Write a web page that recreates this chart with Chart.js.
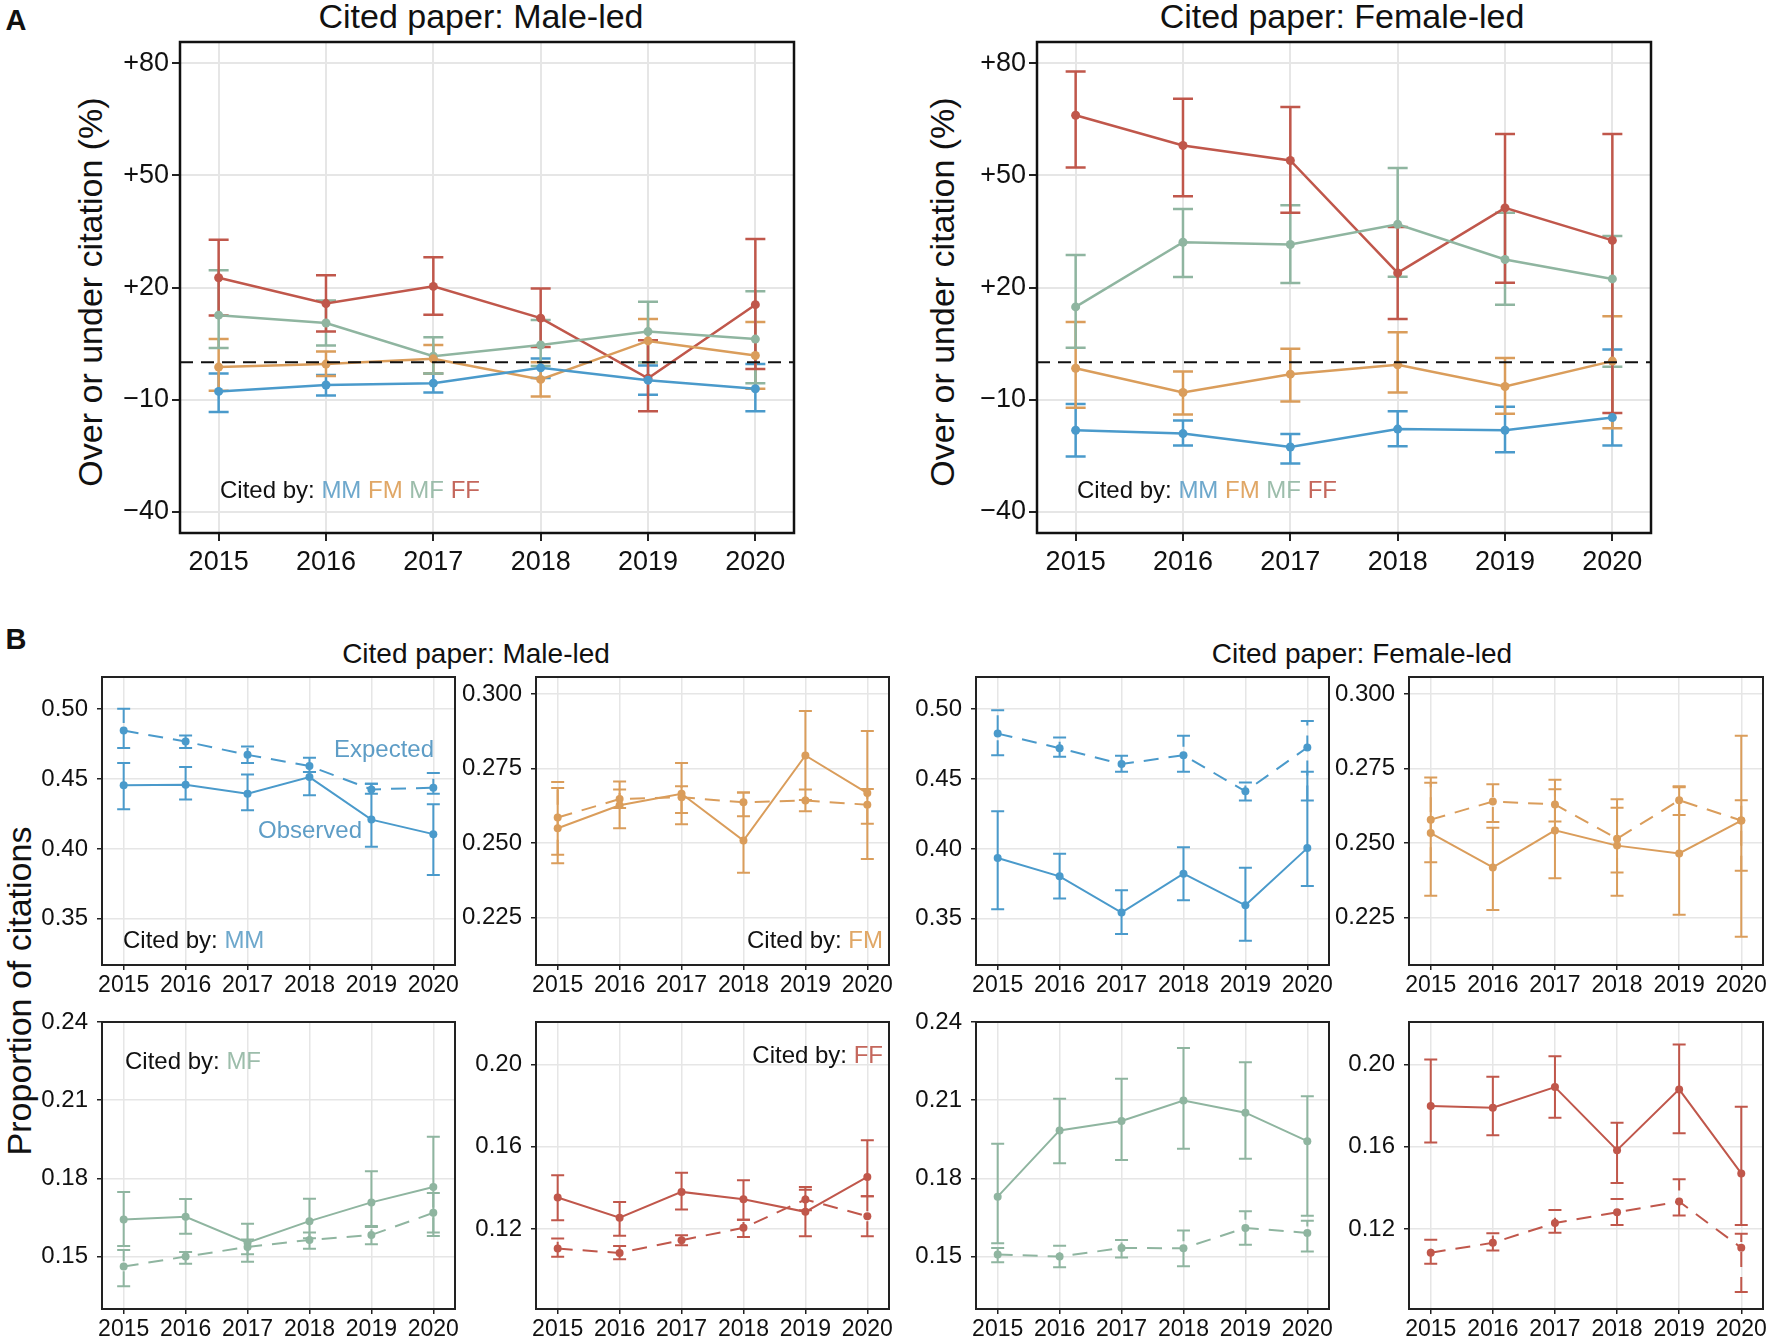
<!DOCTYPE html>
<html><head><meta charset="utf-8">
<title>Citation chart</title>
<script src="https://cdn.jsdelivr.net/npm/chart.js@4.4.1/dist/chart.umd.min.js"></script>
<style>
html,body{margin:0;padding:0;background:#fff}
body{width:1772px;height:1343px;position:relative;overflow:hidden;font-family:"Liberation Sans",Arial,Helvetica,sans-serif;color:#111}
canvas{position:absolute}
.t{position:absolute;white-space:nowrap;line-height:1;transform:translate(-50%,-50%)}
.rot{transform:translate(-50%,-50%) rotate(-90deg)}
</style></head><body>
<div class="t" style="left:16px;top:20px;font-size:29px;font-weight:bold">A</div>
<div class="t" style="left:16px;top:639px;font-size:29px;font-weight:bold">B</div>
<div class="t" style="left:481px;top:16px;font-size:34px">Cited paper: Male-led</div>
<div class="t" style="left:1342px;top:16px;font-size:34px">Cited paper: Female-led</div>
<div class="t rot" style="left:90px;top:292px;font-size:34px">Over or under citation (%)</div>
<div class="t rot" style="left:942px;top:292px;font-size:34px">Over or under citation (%)</div>
<div class="t" style="left:476px;top:654px;font-size:28px">Cited paper: Male-led</div>
<div class="t" style="left:1362px;top:654px;font-size:28px">Cited paper: Female-led</div>
<div class="t rot" style="left:19px;top:991px;font-size:34px">Proportion of citations</div>
<script>
// ---------- categories & tick labels ----------
const years = [2015, 2016, 2017, 2018, 2019, 2020];
const groups = ['MM', 'FM', 'MF', 'FF'];
const aTicks = [-40, -10, 20, 50, 80];
const aTickLabels = ['\u221240', '\u221210', '+20', '+50', '+80'];
const mmTicks = [0.35, 0.40, 0.45, 0.50];
const mmTickLabels = ['0.35', '0.40', '0.45', '0.50'];
const fmTicks = [0.225, 0.25, 0.275, 0.30];
const fmTickLabels = ['0.225', '0.250', '0.275', '0.300'];
const mfTicks = [0.15, 0.18, 0.21, 0.24];
const mfTickLabels = ['0.15', '0.18', '0.21', '0.24'];
const ffTicks = [0.12, 0.16, 0.20];
const ffTickLabels = ['0.12', '0.16', '0.20'];

// ---------- Panel A: over/under citation (%), cited paper male-led ----------
const aM_MM = [-7.8, -6.1, -5.6, -1.5, -4.8, -7.1];
const aM_MM_lo = [-13.3, -8.9, -8.1, -4.2, -8.7, -13.1];
const aM_MM_hi = [-3.0, -3.4, -3.0, 1.0, -0.9, -0.5];
const aM_FM = [-1.3, -0.5, 0.9, -4.6, 5.7, 1.8];
const aM_FM_lo = [-7.6, -3.7, -3.0, -9.2, 0.0, -7.1];
const aM_FM_hi = [6.2, 2.9, 4.6, 0.0, 11.6, 10.8];
const aM_MF = [12.6, 10.5, 1.6, 4.6, 8.2, 6.2];
const aM_MF_lo = [3.8, 4.5, -3.0, -1.0, 0.0, -5.6];
const aM_MF_hi = [24.6, 16.5, 6.7, 11.3, 16.2, 19.0];
const aM_FF = [22.6, 15.7, 20.3, 11.8, -4.3, 15.4];
const aM_FF_lo = [12.5, 8.2, 12.7, 4.1, -13.1, -1.8];
const aM_FF_hi = [32.8, 23.3, 28.1, 19.7, 5.9, 33.0];

// ---------- Panel A: cited paper female-led ----------
const aF_MM = [-18.2, -19.1, -22.7, -17.9, -18.2, -14.8];
const aF_MM_lo = [-25.2, -22.3, -27.1, -22.5, -24.1, -22.3];
const aF_MM_hi = [-11.2, -15.6, -19.2, -13.1, -11.9, 3.4];
const aF_FM = [-1.6, -8.1, -3.2, -0.7, -6.5, 0.3];
const aF_FM_lo = [-12.2, -14.0, -10.5, -8.1, -13.8, -17.7];
const aF_FM_hi = [10.8, -2.5, 3.6, 8.0, 1.1, 12.3];
const aF_MF = [14.8, 32.1, 31.5, 36.9, 27.5, 22.3];
const aF_MF_lo = [3.9, 22.8, 21.2, 22.9, 15.4, -1.2];
const aF_MF_hi = [28.7, 41.0, 42.0, 52.0, 40.0, 33.8];
const aF_FF = [66.1, 58.0, 54.0, 23.9, 41.3, 32.6];
const aF_FF_lo = [52.1, 44.4, 40.0, 11.6, 21.3, -13.6];
const aF_FF_hi = [77.8, 70.5, 68.3, 36.2, 61.1, 61.1];

// ---------- Panel B: proportion of citations, male-led cited papers ----------
const bM_MM_obs = [0.4455, 0.4460, 0.4395, 0.4514, 0.4210, 0.4106];
const bM_MM_obs_lo = [0.4284, 0.4353, 0.4277, 0.4384, 0.4016, 0.3814];
const bM_MM_obs_hi = [0.4614, 0.4586, 0.4533, 0.4550, 0.4467, 0.4320];
const bM_MM_exp = [0.4847, 0.4768, 0.4673, 0.4593, 0.4426, 0.4438];
const bM_MM_exp_lo = [0.4723, 0.4723, 0.4614, 0.4550, 0.4395, 0.4395];
const bM_MM_exp_hi = [0.5003, 0.4811, 0.4733, 0.4652, 0.4467, 0.4543];

const bM_FM_obs = [0.2550, 0.2627, 0.2666, 0.2509, 0.2794, 0.2668];
const bM_FM_obs_lo = [0.2433, 0.2550, 0.2564, 0.2401, 0.2645, 0.2447];
const bM_FM_obs_hi = [0.2685, 0.2707, 0.2769, 0.2670, 0.2943, 0.2876];
const bM_FM_exp = [0.2586, 0.2648, 0.2654, 0.2637, 0.2643, 0.2629];
const bM_FM_exp_lo = [0.2461, 0.2618, 0.2601, 0.2590, 0.2607, 0.2565];
const bM_FM_exp_hi = [0.2705, 0.2680, 0.2691, 0.2670, 0.2680, 0.2682];

const bM_MF_obs = [0.1642, 0.1653, 0.1553, 0.1636, 0.1708, 0.1767];
const bM_MF_obs_lo = [0.1541, 0.1588, 0.1480, 0.1570, 0.1617, 0.1579];
const bM_MF_obs_hi = [0.1748, 0.1721, 0.1626, 0.1722, 0.1827, 0.1960];
const bM_MF_exp = [0.1462, 0.1500, 0.1537, 0.1564, 0.1583, 0.1668];
const bM_MF_exp_lo = [0.1386, 0.1473, 0.1509, 0.1530, 0.1547, 0.1592];
const bM_MF_exp_hi = [0.1525, 0.1518, 0.1566, 0.1592, 0.1614, 0.1744];

const bM_FF_obs = [0.1353, 0.1254, 0.1380, 0.1344, 0.1283, 0.1453];
const bM_FF_obs_lo = [0.1242, 0.1166, 0.1294, 0.1245, 0.1164, 0.1359];
const bM_FF_obs_hi = [0.1461, 0.1331, 0.1473, 0.1437, 0.1404, 0.1632];
const bM_FF_exp = [0.1104, 0.1083, 0.1145, 0.1205, 0.1343, 0.1262];
const bM_FF_exp_lo = [0.1064, 0.1052, 0.1120, 0.1161, 0.1291, 0.1164];
const bM_FF_exp_hi = [0.1153, 0.1117, 0.1169, 0.1245, 0.1391, 0.1359];

// ---------- Panel B: female-led cited papers ----------
const bF_MM_obs = [0.3935, 0.3804, 0.3545, 0.3823, 0.3597, 0.4006];
const bF_MM_obs_lo = [0.3569, 0.3645, 0.3391, 0.3633, 0.3343, 0.3735];
const bF_MM_obs_hi = [0.4270, 0.3966, 0.3704, 0.4013, 0.3866, 0.4552];
const bF_MM_exp = [0.4825, 0.4721, 0.4607, 0.4671, 0.4412, 0.4726];
const bF_MM_exp_lo = [0.4671, 0.4659, 0.4552, 0.4552, 0.4346, 0.4346];
const bF_MM_exp_hi = [0.4992, 0.4797, 0.4666, 0.4809, 0.4476, 0.4916];

const bF_FM_obs = [0.2534, 0.2419, 0.2543, 0.2492, 0.2466, 0.2576];
const bF_FM_obs_lo = [0.2324, 0.2276, 0.2383, 0.2324, 0.2260, 0.2187];
const bF_FM_obs_hi = [0.2703, 0.2552, 0.2713, 0.2647, 0.2688, 0.2860];
const bF_FM_exp = [0.2579, 0.2640, 0.2630, 0.2515, 0.2644, 0.2576];
const bF_FM_exp_lo = [0.2436, 0.2571, 0.2573, 0.2402, 0.2595, 0.2408];
const bF_FM_exp_hi = [0.2720, 0.2698, 0.2681, 0.2619, 0.2691, 0.2644];

const bF_MF_obs = [0.1730, 0.1984, 0.2020, 0.2099, 0.2052, 0.1943];
const bF_MF_obs_lo = [0.1551, 0.1858, 0.1871, 0.1914, 0.1875, 0.1657];
const bF_MF_obs_hi = [0.1933, 0.2106, 0.2182, 0.2300, 0.2246, 0.2115];
const bF_MF_exp = [0.1508, 0.1500, 0.1533, 0.1532, 0.1610, 0.1591];
const bF_MF_exp_lo = [0.1478, 0.1459, 0.1497, 0.1463, 0.1545, 0.1520];
const bF_MF_exp_hi = [0.1533, 0.1542, 0.1564, 0.1600, 0.1674, 0.1638];

const bF_FF_obs = [0.1798, 0.1790, 0.1890, 0.1583, 0.1879, 0.1470];
const bF_FF_obs_lo = [0.1620, 0.1656, 0.1741, 0.1423, 0.1665, 0.1219];
const bF_FF_obs_hi = [0.2024, 0.1940, 0.2040, 0.1717, 0.2097, 0.1795];
const bF_FF_exp = [0.1084, 0.1132, 0.1229, 0.1281, 0.1333, 0.1108];
const bF_FF_exp_lo = [0.1030, 0.1095, 0.1181, 0.1219, 0.1265, 0.0893];
const bF_FF_exp_hi = [0.1147, 0.1179, 0.1292, 0.1345, 0.1442, 0.1176];

// ---------- styling ----------
const FAM = '"Liberation Sans", Arial, Helvetica, sans-serif';
const COL = {MM: '#4A9ACB', FM: '#DA9D5B', MF: '#8FB5A0', FF: '#C0574B'};
const LAB = {MM: '#6EA8CC', FM: '#E0A766', MF: '#9CBDAB', FF: '#C4675C'};
const GRID = '#E6E6E6';

const errorBars = {
  id: 'errorBars',
  beforeDatasetsDraw(chart) {
    const ctx = chart.ctx, xs = chart.scales.x, ys = chart.scales.y;
    chart.data.datasets.forEach(ds => {
      if (!ds.errLo) return;
      ctx.save();
      ctx.strokeStyle = ds.borderColor;
      ctx.lineWidth = ds.borderWidth;
      ctx.setLineDash(ds.borderDash || []);
      ds.data.forEach((p, j) => {
        const px = xs.getPixelForValue(p.x);
        const y1 = ys.getPixelForValue(ds.errLo[j]);
        const y2 = ys.getPixelForValue(ds.errHi[j]);
        const h = ds.capW / 2;
        ctx.beginPath();
        ctx.moveTo(px, y1); ctx.lineTo(px, y2);
        ctx.moveTo(px - h, y1); ctx.lineTo(px + h, y1);
        ctx.moveTo(px - h, y2); ctx.lineTo(px + h, y2);
        ctx.stroke();
      });
      ctx.restore();
    });
  }
};

function deco(o) {
  return {
    id: 'deco',
    afterDatasetsDraw(chart) {
      if (o.ref === undefined) return;
      const ctx = chart.ctx, a = chart.chartArea;
      const y = chart.scales.y.getPixelForValue(o.ref);
      ctx.save();
      ctx.strokeStyle = '#111'; ctx.lineWidth = 2.2; ctx.setLineDash([13, 8]);
      ctx.beginPath(); ctx.moveTo(a.left, y); ctx.lineTo(a.right, y); ctx.stroke();
      ctx.restore();
    },
    afterDraw(chart) {
      const ctx = chart.ctx, a = chart.chartArea;
      ctx.save();
      ctx.strokeStyle = o.borderColor; ctx.lineWidth = o.border;
      ctx.strokeRect(a.left, a.top, a.right - a.left, a.bottom - a.top);
      ctx.restore();
      (o.notes || []).forEach(it => {
        ctx.save();
        ctx.font = it.size + 'px ' + FAM;
        ctx.textBaseline = 'middle';
        ctx.textAlign = 'left';
        const w = it.runs.reduce((s, r) => s + ctx.measureText(r.t).width, 0);
        let x = it.from === 'right' ? a.right + it.x : a.left + it.x;
        if (it.align === 'right') x -= w; else if (it.align === 'center') x -= w / 2;
        const y = a.top + it.y;
        it.runs.forEach(r => { ctx.fillStyle = r.c; ctx.fillText(r.t, x, y); x += ctx.measureText(r.t).width; });
        ctx.restore();
      });
    }
  };
}

function makeChart(o) {
  const pt = 30, pr = 40;
  const W = (o.r - o.l) + o.yw + pr, H = (o.b - o.t) + pt + o.xh;
  const c = document.createElement('canvas');
  c.width = W; c.height = H;
  c.style.left = (o.l - o.yw) + 'px'; c.style.top = (o.t - pt) + 'px';
  c.style.width = W + 'px'; c.style.height = H + 'px';
  document.body.appendChild(c);
  new Chart(c, {
    type: 'line',
    data: {datasets: o.datasets},
    options: {
      responsive: false, animation: false, devicePixelRatio: 1, events: [],
      layout: {padding: {top: pt, right: pr, left: 0, bottom: 0}},
      plugins: {legend: {display: false}, tooltip: {enabled: false}},
      scales: {
        x: {
          type: 'linear', min: years[0] - o.xpad, max: years[years.length - 1] + o.xpad,
          afterBuildTicks: s => { s.ticks = years.map(v => ({value: v})); },
          afterFit: s => { s.height = o.xh; },
          grid: {color: GRID, lineWidth: o.gw, tickLength: o.tl, tickColor: '#222', tickWidth: o.tw},
          border: {display: false},
          ticks: {font: {family: FAM, size: o.xfs}, color: '#111', padding: o.xpadT, maxRotation: 0, autoSkip: false,
                  callback: v => String(v)}
        },
        y: {
          type: 'linear', min: o.ymin, max: o.ymax,
          afterBuildTicks: s => { s.ticks = o.yticks.map(v => ({value: v})); },
          afterFit: s => { s.width = o.yw; },
          grid: {color: GRID, lineWidth: o.gw, tickLength: o.tl, tickColor: '#222', tickWidth: o.tw},
          border: {display: false},
          ticks: {font: {family: FAM, size: o.yfs}, color: '#111', padding: o.ypadT,
                  callback: v => { const i = o.yticks.findIndex(t => Math.abs(t - v) < 1e-9); return i >= 0 ? o.ylabels[i] : ''; }}
        }
      }
    },
    plugins: [errorBars, deco(o)]
  });
}

function pts(vals) { return years.map((yr, i) => ({x: yr, y: vals[i]})); }
function aSet(g, v, lo, hi) {
  return {data: pts(v), errLo: lo, errHi: hi, capW: 20, borderColor: COL[g], backgroundColor: COL[g],
          borderWidth: 2.5, pointRadius: 4.5, pointBorderWidth: 0, pointHoverRadius: 0, tension: 0};
}
function bSet(g, v, lo, hi, dashed) {
  return {data: pts(v), errLo: lo, errHi: hi, capW: 13, borderColor: COL[g], backgroundColor: COL[g],
          borderWidth: 2, borderDash: dashed ? [15, 10] : [], pointRadius: 4, pointBorderWidth: 0,
          pointHoverRadius: 0, tension: 0};
}
function citedBy(list, size, x, y, from, align) {
  const runs = [{t: 'Cited by: ', c: '#111'}];
  list.forEach((g, i) => runs.push({t: g + (i < list.length - 1 ? ' ' : ''), c: LAB[g]}));
  return {runs, size, x, y, from, align};
}

// ---------- Panel A ----------
const A = {yw: 70, xh: 60, xpad: 0.36, ymin: -45.7, ymax: 85.7, yticks: aTicks, ylabels: aTickLabels,
           xfs: 27, yfs: 27, tl: 8, tw: 2, gw: 2, ypadT: 3, xpadT: 5, border: 2.5, borderColor: '#111', ref: 0, t: 42, b: 533};
makeChart(Object.assign({}, A, {l: 180, r: 794,
  datasets: [aSet('MM', aM_MM, aM_MM_lo, aM_MM_hi), aSet('FM', aM_FM, aM_FM_lo, aM_FM_hi),
             aSet('MF', aM_MF, aM_MF_lo, aM_MF_hi), aSet('FF', aM_FF, aM_FF_lo, aM_FF_hi)],
  notes: [citedBy(groups, 24, 40, 449, 'left', 'left')]}));
makeChart(Object.assign({}, A, {l: 1037, r: 1651,
  datasets: [aSet('MM', aF_MM, aF_MM_lo, aF_MM_hi), aSet('FM', aF_FM, aF_FM_lo, aF_FM_hi),
             aSet('MF', aF_MF, aF_MF_lo, aF_MF_hi), aSet('FF', aF_FF, aF_FF_lo, aF_FF_hi)],
  notes: [citedBy(groups, 24, 40, 449, 'left', 'left')]}));

// ---------- Panel B ----------
const B = {yw: 80, xh: 40, xpad: 0.35, xfs: 23, yfs: 24, tl: 5, tw: 1.5, gw: 1.5, ypadT: 9, xpadT: 2,
           border: 2, borderColor: '#222'};
const cols = [[102, 455], [536, 889], [976, 1329], [1409, 1763]];
const rows = [[677, 965], [1022, 1309]];
const RANGE = {
  MM: {ymin: 0.317, ymax: 0.523, yticks: mmTicks, ylabels: mmTickLabels},
  FM: {ymin: 0.2092, ymax: 0.3057, yticks: fmTicks, ylabels: fmTickLabels},
  MF: {ymin: 0.1299, ymax: 0.2400, yticks: mfTicks, ylabels: mfTickLabels},
  FF: {ymin: 0.0810, ymax: 0.2207, yticks: ffTicks, ylabels: ffTickLabels}
};
function bPanel(g, ci, ri, obs, obsLo, obsHi, exp, expLo, expHi, notes) {
  makeChart(Object.assign({}, B, RANGE[g], {l: cols[ci][0], r: cols[ci][1], t: rows[ri][0], b: rows[ri][1],
    datasets: [bSet(g, exp, expLo, expHi, true), bSet(g, obs, obsLo, obsHi, false)], notes}));
}
bPanel('MM', 0, 0, bM_MM_obs, bM_MM_obs_lo, bM_MM_obs_hi, bM_MM_exp, bM_MM_exp_lo, bM_MM_exp_hi, [
  citedBy(['MM'], 24, 21, 264.5, 'left', 'left'),
  {runs: [{t: 'Expected', c: '#5E9DC6'}], size: 24, x: 282, y: 73.5, from: 'left', align: 'center'},
  {runs: [{t: 'Observed', c: '#5E9DC6'}], size: 24, x: 208, y: 154, from: 'left', align: 'center'}]);
bPanel('FM', 1, 0, bM_FM_obs, bM_FM_obs_lo, bM_FM_obs_hi, bM_FM_exp, bM_FM_exp_lo, bM_FM_exp_hi, [
  citedBy(['FM'], 24, -6, 264.5, 'right', 'right')]);
bPanel('MM', 2, 0, bF_MM_obs, bF_MM_obs_lo, bF_MM_obs_hi, bF_MM_exp, bF_MM_exp_lo, bF_MM_exp_hi, []);
bPanel('FM', 3, 0, bF_FM_obs, bF_FM_obs_lo, bF_FM_obs_hi, bF_FM_exp, bF_FM_exp_lo, bF_FM_exp_hi, []);
bPanel('MF', 0, 1, bM_MF_obs, bM_MF_obs_lo, bM_MF_obs_hi, bM_MF_exp, bM_MF_exp_lo, bM_MF_exp_hi, [
  citedBy(['MF'], 24, 23, 40.5, 'left', 'left')]);
bPanel('FF', 1, 1, bM_FF_obs, bM_FF_obs_lo, bM_FF_obs_hi, bM_FF_exp, bM_FF_exp_lo, bM_FF_exp_hi, [
  citedBy(['FF'], 24, -6, 34, 'right', 'right')]);
bPanel('MF', 2, 1, bF_MF_obs, bF_MF_obs_lo, bF_MF_obs_hi, bF_MF_exp, bF_MF_exp_lo, bF_MF_exp_hi, []);
bPanel('FF', 3, 1, bF_FF_obs, bF_FF_obs_lo, bF_FF_obs_hi, bF_FF_exp, bF_FF_exp_lo, bF_FF_exp_hi, []);
</script>
</body></html>
